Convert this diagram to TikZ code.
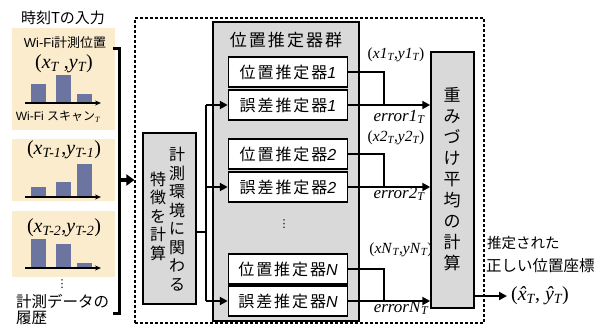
\documentclass[tikz,border=0pt]{standalone}
\usepackage{fontspec}
\setmainfont{Liberation Sans}
\newfontfamily\jp{Noto Sans CJK JP}
\newfontfamily\jps[LetterSpace=12]{Noto Sans CJK JP}
\newfontfamily\tms{Liberation Serif}
\newfontfamily\dvs{DejaVu Sans}
\usetikzlibrary{arrows.meta}
\definecolor{beige}{RGB}{252,236,206}
\definecolor{barc}{RGB}{108,116,160}
\definecolor{boxg}{RGB}{217,217,217}
\newcommand\fs[2][]{\fontsize{#2}{#2}\selectfont}
\newcommand\ssb[1]{\textsubscript{\itshape #1}}
\newcommand\itn[1]{{\rmfamily\itshape #1}}
\newcommand\hatx[1]{\textit{\accent"02C6 #1}}
\begin{document}
\begin{tikzpicture}[x=1pt,y=-1pt,
  panelbg/.style={fill=beige, draw=none, minimum width=103pt, inner sep=0pt},
  bar/.style={fill=barc},
  axisarr/.style={line width=1.4pt, -{Stealth[length=6pt,width=5pt]}},
  graybox/.style={fill=boxg, draw=black, line width=1.5pt, inner sep=0pt},
  ibox/.style={fill=white, draw=black, line width=1.5pt, minimum width=119pt, minimum height=30pt, inner sep=0pt, font=\jps\fs{16}},
  conn/.style={line width=2.6pt},
  arr/.style={-{Triangle[length=8pt,width=8pt]}},
  lbl/.style={inner sep=0pt, font=\tms\fs{15.5}},
  elbl/.style={inner sep=0pt, font=\tms\fs{17}},
  coordlbl/.style={inner sep=0pt, font=\tms\fs{20}},
  vtext/.style={inner sep=0pt, align=center}
]
\useasboundingbox (0,0) rectangle (609,327);

% ---------- input panels ----------
\node[inner sep=0pt, font=\jp\fs{15}] (title) at (63,18) {時刻Tの入力};
\node[panelbg, minimum height=102pt] (pn1) at (63.5,79) {};
\node[panelbg, minimum height=62pt] (pn2) at (63.5,170) {};
\node[panelbg, minimum height=66pt] (pn3) at (63.5,244) {};

\node[inner sep=0pt, font=\fs{13}] (wfpos) at (65,43) {Wi-Fi{\jp 計測位置}};
\node[coordlbl] (c1) at (64,64) {(\textit{x}\ssb{T} ,\textit{y}\ssb{T})};
\fill[bar] (31,103) rectangle (46,84);
\fill[bar] (56,103) rectangle (71,75);
\fill[bar] (77,103) rectangle (92,94);
\draw[axisarr] (25,103) -- (101,103);
\node[inner sep=0pt, font=\fs{12}] (scan) at (58,117) {Wi-Fi {\jp スキャン}{\tms\ssb{T}}};

\node[coordlbl] (c2) at (64,150) {(\textit{x}\ssb{T-1},\textit{y}\ssb{T-1})};
\fill[bar] (31,197) rectangle (46,187);
\fill[bar] (56,197) rectangle (71,182);
\fill[bar] (77,197) rectangle (92,164);
\draw[axisarr] (25,197) -- (101,197);

\node[coordlbl] (c3) at (64,228) {(\textit{x}\ssb{T-2},\textit{y}\ssb{T-2})};
\fill[bar] (31,268) rectangle (46,239);
\fill[bar] (56,268) rectangle (71,244);
\fill[bar] (77,268) rectangle (92,263);
\draw[axisarr] (25,268) -- (101,268);

\node[inner sep=0pt, font=\dvs\fs{11}] (vd) at (62,284) {⋮};
\node[inner sep=0pt, anchor=west, font=\jp\fs{15.5}] (hist1) at (16,302) {計測データの};
\node[inner sep=0pt, anchor=west, font=\jp\fs{15.5}] (hist2) at (16,318) {履歴};

% bracket
\draw[line width=3pt] (113,48) -- (119,48) -- (119,313) -- (113,313);
\coordinate (brk) at (119,180);

% ---------- system box ----------
\node[draw=black, line width=1.2pt, dash pattern=on 3pt off 2pt, minimum width=349pt, minimum height=305pt, inner sep=0pt] (sys) at (309.5,170.5) {};
\draw[line width=4pt, -{Triangle[length=8pt,width=11pt]}] (brk) -- (sys.west |- brk);

% group box
\node[graybox, minimum width=146pt, minimum height=299pt] (grp) at (286,171.5) {};
\node[inner sep=0pt, font=\jps\fs{17}] (grpt) at (286,40) {位置推定器群};
\node[ibox] (p1) at (288,72) {位置推定器\itn{1}};
\node[ibox] (e1) at (288,105) {誤差推定器\itn{1}};
\node[ibox] (p2) at (288,154) {位置推定器\itn{2}};
\node[ibox] (e2) at (288,187) {誤差推定器\itn{2}};
\node[inner sep=0pt, font=\dvs\fs{11}] (gd) at (284,224) {⋮};
\node[ibox] (pN) at (288,269) {位置推定器\itn{N}};
\node[ibox] (eN) at (288,301) {誤差推定器\itn{N}};

% feature box
\node[graybox, minimum width=53pt, minimum height=171pt] (feat) at (169.5,218.5) {};
\node[vtext, font=\jp\fontsize{16}{18.5}\selectfont] (featR) at (177,219) {計\\測\\環\\境\\に\\関\\わ\\る};
\node[vtext, font=\jp\fontsize{16}{18.5}\selectfont] (featL) at (158,216) {特\\徴\\を\\計\\算};

% labels on the right
\node[lbl] (l1) at (396,55) {(\textit{x1}\ssb{T},\textit{y1}\ssb{T})};
\node[elbl] (le1) at (399,117) {\textit{error1}\ssb{T}};
\node[lbl] (l2) at (396,138) {(\textit{x2}\ssb{T},\textit{y2}\ssb{T})};
\node[elbl] (le2) at (399,194) {\textit{error2}\ssb{T}};
\node[lbl] (lN) at (401,250) {(\textit{xN}\ssb{T},\textit{yN}\ssb{T})};
\node[elbl] (leN) at (401,308) {\textit{errorN}\ssb{T}};

% weighted average box
\node[graybox, minimum width=43pt, minimum height=256pt] (w) at (452.5,180) {};
\node[vtext, font=\jp\fontsize{17}{21}\selectfont] (wt) at (452,179) {重\\み\\づ\\け\\平\\均\\の\\計\\算};

% ---------- connectors ----------
\coordinate (j) at (206,232);
\draw[conn] (feat.east |- j) -- (j);
\draw[conn] (j |- e1.west) -- (j |- eN.west);
\draw[conn,arr] (j |- e1.west) -- (e1.west);
\draw[conn,arr] (j |- e2.west) -- (e2.west);
\draw[conn,arr] (j |- eN.west) -- (eN.west);

\coordinate (rj) at (384,0);
\draw[conn] (p1.east) -| (rj |- e1.east);
\draw[conn,arr] (e1.east) -- (w.west |- e1.east);
\draw[conn] (p2.east) -| (rj |- e2.east);
\draw[conn,arr] (e2.east) -- (w.west |- e2.east);
\draw[conn] (pN.east) -| (rj |- eN.east);
\draw[conn,arr] (eN.east) -- (w.west |- eN.east);

% output
\coordinate (out) at (507,296);
\draw[conn,arr] (w.east |- out) -- (out);
\node[inner sep=0pt, anchor=west, font=\jp\fs{14.5}] (o1) at (487,243) {推定された};
\node[inner sep=0pt, anchor=west, font=\jp\fs{15.5}] (o2) at (486,266) {正しい位置座標};
\node[inner sep=0pt, anchor=west, font=\tms\fs{20}] (o3) at (511,296) {(\hatx{x}\ssb{T}, \hatx{y}\ssb{T})};
\end{tikzpicture}
\end{document}
